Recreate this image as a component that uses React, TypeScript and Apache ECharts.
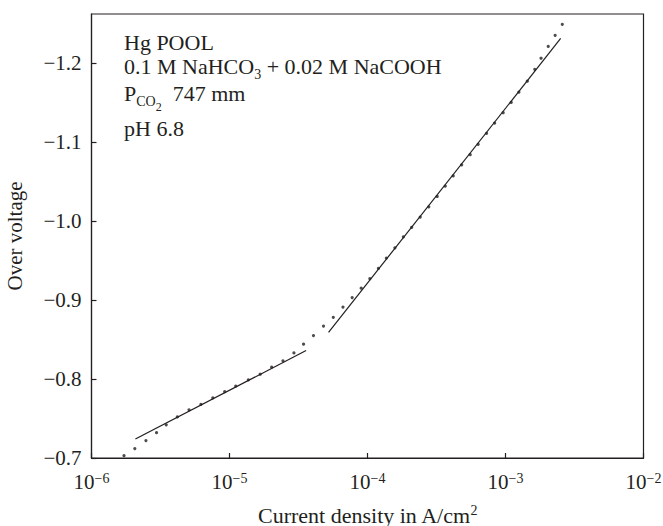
import React, { useEffect, useRef } from 'react';
import * as echarts from 'echarts';

// Measured points (current density in A/cm², over voltage in V)
const currentDensity = [
  1.72e-6, 2.06e-6, 2.48e-6, 2.96e-6, 3.48e-6, 4.19e-6, 5.09e-6, 6.21e-6, 7.57e-6, 9.23e-6,
  1.11e-5, 1.37e-5, 1.67e-5, 2.02e-5, 2.44e-5, 2.93e-5, 3.44e-5, 4.06e-5, 4.8e-5, 5.65e-5,
  6.64e-5, 7.74e-5, 9.0e-5, 1.04e-4, 1.2e-4, 1.37e-4, 1.58e-4, 1.82e-4, 2.09e-4, 2.41e-4,
  2.78e-4, 3.2e-4, 3.66e-4, 4.18e-4, 4.81e-4, 5.55e-4, 6.34e-4, 7.29e-4, 8.34e-4, 9.62e-4,
  1.1e-3, 1.25e-3, 1.44e-3, 1.63e-3, 1.81e-3, 2.04e-3, 2.29e-3, 2.58e-3,
];
const overVoltage = [
  -0.703, -0.712, -0.722, -0.732, -0.742, -0.752, -0.761, -0.768, -0.776, -0.784,
  -0.791, -0.799, -0.806, -0.815, -0.823, -0.833, -0.844, -0.855, -0.867, -0.878,
  -0.891, -0.903, -0.915, -0.927, -0.94, -0.953, -0.966, -0.98, -0.992, -1.005,
  -1.018, -1.031, -1.044, -1.057, -1.071, -1.084, -1.097, -1.111, -1.124, -1.137,
  -1.15, -1.163, -1.177, -1.192, -1.206, -1.221, -1.235, -1.249,
];

// Straight-line (Tafel) fits
const fitLowCurrent = [2.08e-6, 3.59e-5];
const fitLowVoltage = [-0.724, -0.836];
const fitHighCurrent = [5.22e-5, 2.51e-3];
const fitHighVoltage = [-0.859, -1.231];

// Axis ranges / ticks
const yTickValues = [-0.7, -0.8, -0.9, -1.0, -1.1, -1.2];
const yTop = -1.262;
const xMin = 1e-6;
const xMax = 1e-2;

// Annotation block
const annotationLines = [
  'Hg POOL',
  '0.1 M NaHCO{sub|3} + 0.02 M NaCOOH',
  'P{sub|CO}{subsub|2}  747 mm',
  'pH 6.8',
];
const annotationBaselines = [49.3, 73.8, 100, 135.6];

const INK = '#231f20';
const FONT = '"Liberation Serif", "Times New Roman", serif';

export default function App() {
  const ref = useRef<HTMLDivElement>(null);

  useEffect(() => {
    if (!ref.current) return;
    const chart = echarts.init(ref.current, undefined, { renderer: 'svg' });

    const yMin = -yTickValues[0];
    const option: any = {
      animation: false,
      textStyle: { fontFamily: FONT, color: INK },
      grid: {
        left: 91.5,
        right: 19.5,
        top: 14,
        bottom: 68,
        containLabel: false,
        outerBoundsMode: 'none',
        show: true,
        borderColor: INK,
        borderWidth: 1.2,
        backgroundColor: 'transparent',
      },
      xAxis: {
        type: 'log',
        logBase: 10,
        min: xMin,
        max: xMax,
        splitLine: { show: false },
        minorTick: { show: false },
        axisLine: { show: true, onZero: false, lineStyle: { color: INK, width: 1.2 } },
        axisTick: { show: true, inside: true, length: 5, lineStyle: { color: INK, width: 1.2 } },
        axisLabel: {
          margin: 12,
          formatter: (v: number) => {
            const e = Math.round(Math.log10(v));
            return `{b|10}{s|${e < 0 ? '\u2212' : ''}${Math.abs(e)}}`;
          },
          rich: {
            b: { fontSize: 21, lineHeight: 24, fontFamily: FONT, color: INK },
            s: { fontSize: 14, lineHeight: 24, fontFamily: FONT, color: INK, padding: [0, 0, 8, 0] },
          },
        },
        name: '{t|Current density in A/cm}{s|2}',
        nameLocation: 'middle',
        nameGap: 45,
        nameTextStyle: {
          rich: {
            t: { fontSize: 22, lineHeight: 24, fontFamily: FONT, color: INK },
            s: { fontSize: 14, lineHeight: 24, fontFamily: FONT, color: INK, padding: [0, 0, 10, 0] },
          },
        },
      },
      yAxis: {
        type: 'value',
        min: yMin,
        max: -yTop,
        interval: 0.1,
        splitLine: { show: false },
        axisLine: { show: true, onZero: false, lineStyle: { color: INK, width: 1.2 } },
        axisTick: { show: true, inside: true, length: 5, lineStyle: { color: INK, width: 1.2 } },
        axisLabel: {
          margin: 10,
          showMaxLabel: false,
          fontSize: 21,
          fontFamily: FONT,
          color: INK,
          formatter: (v: number) => '\u2212' + v.toFixed(1),
        },
        name: 'Over voltage',
        nameLocation: 'middle',
        nameGap: 66,
        nameTextStyle: { fontSize: 21, fontFamily: FONT, color: INK },
      },
      series: [
        {
          type: 'scatter',
          symbol: 'circle',
          symbolSize: 3.2,
          itemStyle: { color: INK },
          data: currentDensity.map((c, i) => [c, -overVoltage[i]]),
        },
        {
          type: 'line',
          showSymbol: false,
          symbol: 'none',
          lineStyle: { color: INK, width: 1.2 },
          data: fitLowCurrent.map((c, i) => [c, -fitLowVoltage[i]]),
        },
        {
          type: 'line',
          showSymbol: false,
          symbol: 'none',
          lineStyle: { color: INK, width: 1.2 },
          data: fitHighCurrent.map((c, i) => [c, -fitHighVoltage[i]]),
        },
      ],
      graphic: annotationLines.map((t, i) => ({
        type: 'text',
        x: 124,
        y: annotationBaselines[i] - 19,
        silent: true,
        style: {
          text: t,
          fontSize: 22,
          fontFamily: FONT,
          fill: INK,
          lineHeight: 24,
          align: 'left',
          verticalAlign: 'top',
          textAlign: 'left',
          textVerticalAlign: 'top',
          rich: {
            sub: { fontSize: 14, lineHeight: 24, fontFamily: FONT, fill: INK, padding: [16, 0, 0, 0] },
            subsub: { fontSize: 12, lineHeight: 24, fontFamily: FONT, fill: INK, padding: [28, 0, 0, 0] },
          },
        },
      })),
    };

    chart.setOption(option);
    return () => chart.dispose();
  }, []);

  return (
    <div
      ref={ref}
      style={{ position: 'fixed', left: 0, top: 0, width: 663, height: 526, background: '#fff' }}
    />
  );
}
